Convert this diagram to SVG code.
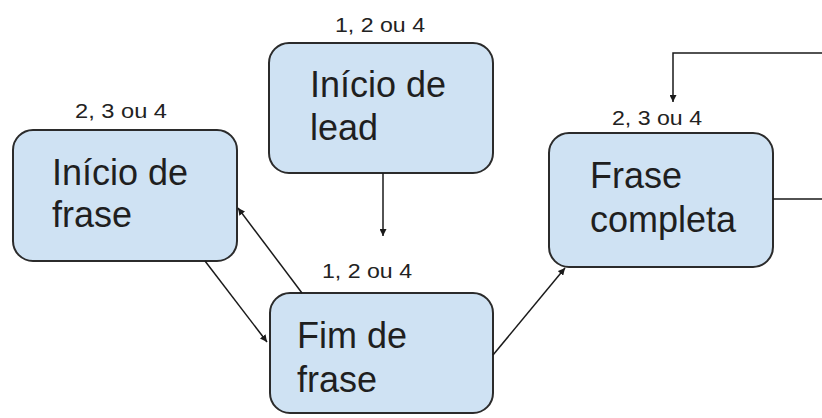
<svg xmlns="http://www.w3.org/2000/svg" width="822" height="418" viewBox="0 0 822 418">
  <defs>
    <marker id="arrow" viewBox="0 0 10 10" refX="10" refY="5" markerWidth="7" markerHeight="7" markerUnits="userSpaceOnUse" orient="auto">
      <path d="M0,0 L10,5 L0,10 z" fill="#1a1a1a"/>
    </marker>
    <style>
      .box { fill: #cfe2f3; stroke: #2b2b2b; stroke-width: 2; }
      .title { font-family: "Liberation Sans", Arial, sans-serif; font-size: 36px; fill: #1f1f1f; }
      .tag { font-family: "Liberation Sans", Arial, sans-serif; font-size: 20px; fill: #222; }
      .edge { fill: none; stroke: #1a1a1a; stroke-width: 1.5; marker-end: url(#arrow); }
    </style>
  </defs>
  <rect width="822" height="418" fill="#ffffff"/>

  <g id="inicio-frase">
    <rect class="box" x="13" y="130" width="224" height="131" rx="20"/>
    <text class="tag" x="75" y="118" textLength="92" lengthAdjust="spacingAndGlyphs">2, 3 ou 4</text>
    <text class="title" x="52" y="185">Início de</text>
    <text class="title" x="52" y="227">frase</text>
  </g>

  <g id="inicio-lead">
    <rect class="box" x="269" y="43" width="224" height="130" rx="20"/>
    <text class="tag" x="335" y="32" textLength="90" lengthAdjust="spacingAndGlyphs">1, 2 ou 4</text>
    <text class="title" x="310" y="97">Início de</text>
    <text class="title" x="310" y="140">lead</text>
  </g>

  <g id="frase-completa">
    <rect class="box" x="549" y="133" width="224" height="134" rx="20"/>
    <text class="tag" x="612" y="125" textLength="90" lengthAdjust="spacingAndGlyphs">2, 3 ou 4</text>
    <text class="title" x="590" y="188">Frase</text>
    <text class="title" x="590" y="232">completa</text>
  </g>

  <g id="fim-frase">
    <rect class="box" x="270" y="293" width="223" height="120" rx="20"/>
    <text class="tag" x="322" y="278" textLength="90" lengthAdjust="spacingAndGlyphs">1, 2 ou 4</text>
    <text class="title" x="297" y="348">Fim de</text>
    <text class="title" x="297" y="392">frase</text>
  </g>

  <g id="connectors">
    <path class="edge" d="M383,173 L383,236"/>
    <path class="edge" d="M302,293 L238,208"/>
    <path class="edge" d="M205,261 L267,342"/>
    <path class="edge" d="M493,355 L565,268"/>
    <path class="edge" d="M773,199 L826,199 L826,53 L673,53 L673,102"/>
  </g>
</svg>
